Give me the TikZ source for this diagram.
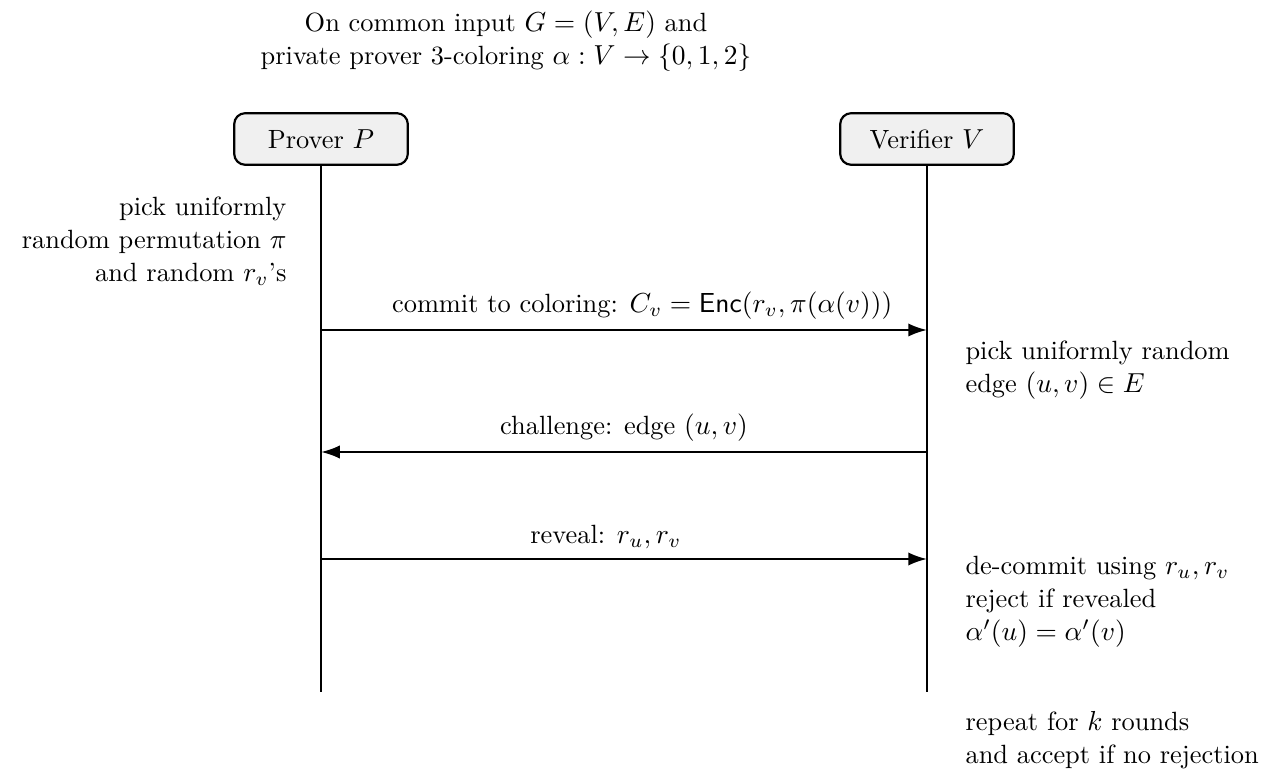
\documentclass[tikz,border=0pt]{standalone}
\usetikzlibrary{arrows.meta, positioning}
\definecolor{boxfill}{HTML}{F0F0F0}
\tikzset{
  party/.style={
    rectangle, draw=black, line width=0.8pt, rounded corners=4pt,
    minimum width=2.22cm, minimum height=0.66cm, align=center,
    fill=boxfill
  },
  lifeline/.style={line width=0.8pt},
  msg/.style={-{Latex[length=2.4mm, width=1.7mm]}, line width=0.8pt},
  note/.style={align=left, anchor=north west, inner sep=0pt},
  leftnote/.style={align=right, anchor=north east, inner sep=0pt}
}
\begin{document}
\begin{tikzpicture}[x=0.01278cm, y=-0.01278cm, font=\fontsize{9.6pt}{12pt}\selectfont]
\useasboundingbox (0,0) rectangle (1264,771);

% ---------------- Header ----------------
\node[anchor=north, align=center, inner sep=0pt] (title) at (506,10)
  {On common input $G=(V,E)$ and\\
   private prover 3-coloring $\alpha : V \rightarrow \{0,1,2\}$};

% ---------------- Parties ----------------
\node[party] (prover) at (321,139) {Prover $P$};
\node[party] (verifier) at (927,139) {Verifier $V$};

\coordinate (proverEnd) at (prover |- 0,692);
\coordinate (verifierEnd) at (verifier |- 0,692);
\draw[lifeline] (prover.south) -- (proverEnd);
\draw[lifeline] (verifier.south) -- (verifierEnd);

% ---------------- Messages ----------------
\coordinate (p1) at (prover |- 0,330);
\coordinate (v1) at (verifier |- 0,330);
\coordinate (p2) at (prover |- 0,452);
\coordinate (v2) at (verifier |- 0,452);
\coordinate (p3) at (prover |- 0,559);
\coordinate (v3) at (verifier |- 0,559);

\draw[msg] (p1) -- node[above, pos=0.53] {commit to coloring: $C_v = \mathsf{Enc}(r_v, \pi(\alpha(v)))$} (v1);
\draw[msg] (v2) -- node[above] {challenge: edge $(u,v)$} (p2);
\draw[msg] (p3) -- node[above, pos=0.47] {reveal: $r_u, r_v$} (v3);

% ---------------- Local steps ----------------
\node[leftnote] (proverPick) at (287,196)
  {pick uniformly\\ random permutation $\pi$\\ and random $r_v$'s};
\node[note] (verifierPick) at (965,340)
  {pick uniformly random\\ edge $(u,v) \in E$};
\node[note] (verifierCheck) at (965,556)
  {de-commit using $r_u, r_v$\\ reject if revealed\\ $\alpha'(u) = \alpha'(v)$};
\node[note] (repeat) at (965,711)
  {repeat for $k$ rounds\\ and accept if no rejection};

\end{tikzpicture}
\end{document}
